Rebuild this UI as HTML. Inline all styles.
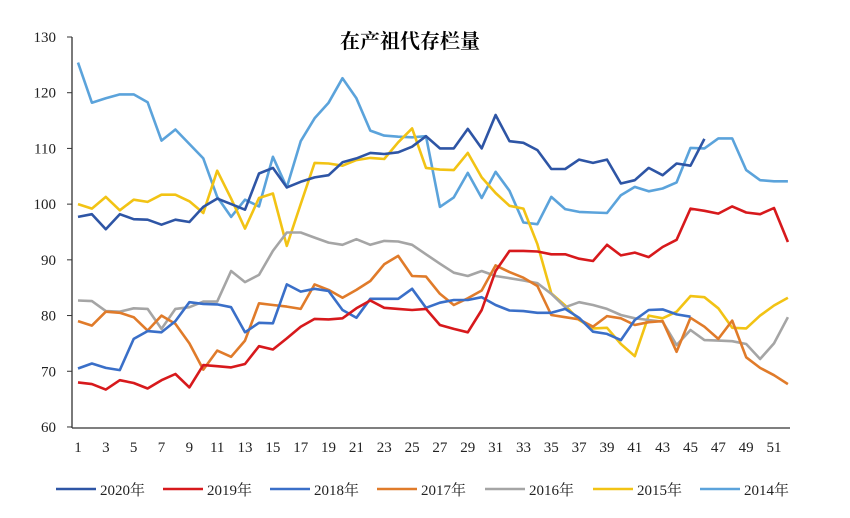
<!DOCTYPE html>
<html><head><meta charset="utf-8"><style>
html,body{margin:0;padding:0;background:#fff;}
svg{display:block;font-family:"Liberation Serif","Noto Serif CJK SC",serif;}
</style></head><body>
<svg id="c" width="850" height="518" viewBox="0 0 850 518" xmlns="http://www.w3.org/2000/svg">
<rect width="850" height="518" fill="#fff"/>
<text x="410" y="48" text-anchor="middle" font-size="20" font-weight="bold" font-family="'Noto Serif CJK SC',serif">在产祖代存栏量</text>
<g id="axes"></g>
<g id="series"></g>
<g id="legend"></g>
</svg>
<script>
var X=function(w){return 78+(w-1)*13.92;};
var Y=function(v){return 37+(130-v)*5.571;};
var ns="http://www.w3.org/2000/svg";
function el(t,a,p,txt){var e=document.createElementNS(ns,t);for(var k in a)e.setAttribute(k,a[k]);if(txt!==undefined)e.textContent=txt;p.appendChild(e);return e;}
var ax=document.getElementById('axes');
el('line',{x1:72,y1:37,x2:72,y2:428,stroke:'#333','stroke-width':1.3},ax);
el('line',{x1:72,y1:428,x2:790,y2:428,stroke:'#333','stroke-width':1.3},ax);
for(var v=60;v<=130;v+=10){var y=Y(v);el('line',{x1:67,y1:y,x2:72,y2:y,stroke:'#333'},ax);el('text',{x:56,y:y+5,'text-anchor':'end','font-size':15,fill:'#222'},ax,v);}
for(var w=1;w<=51;w+=2){el('text',{x:X(w),y:452,'text-anchor':'middle','font-size':15,fill:'#222'},ax,w);}
var S=[
['#5BA3DB','2014年',[125.4,118.2,119,119.7,119.7,118.3,111.4,113.4,110.8,108.2,101.3,97.7,100.8,99.6,108.5,103,111.3,115.4,118.2,122.6,119,113.2,112.3,112.1,112,112.2,99.5,101.2,105.6,101.1,105.8,102.4,96.7,96.4,101.3,99.1,98.6,98.5,98.4,101.6,103.1,102.3,102.8,103.9,110.1,110,111.8,111.8,106.1,104.3,104.1,104.1]],
['#F2C314','2015年',[100,99.2,101.3,98.9,100.8,100.4,101.7,101.7,100.5,98.4,106,101,95.6,101.1,101.9,92.5,100,107.4,107.3,106.9,107.9,108.3,108.1,111.1,113.6,106.5,106.2,106.1,109.2,104.8,102,99.7,99.2,92.8,84,81.8,79.2,77.7,77.8,74.9,72.7,80,79.5,80.7,83.5,83.3,81.3,77.8,77.7,80,81.8,83.2]],
['#A5A5A5','2016年',[82.7,82.6,80.8,80.7,81.3,81.2,77.6,81.2,81.5,82.5,82.5,88,86,87.3,91.6,94.9,94.9,94,93.1,92.7,93.7,92.7,93.4,93.3,92.7,91,89.3,87.7,87.1,88,87.1,86.7,86.3,85.8,83.9,81.5,82.4,81.9,81.2,80.1,79.5,79.2,78.9,74.7,77.4,75.6,75.5,75.4,74.9,72.2,75,79.7]],
['#E07B2A','2017年',[79,78.2,80.7,80.5,79.7,77.3,80,78.5,75,70.3,73.7,72.6,75.5,82.2,81.9,81.6,81.2,85.6,84.6,83.2,84.6,86.2,89.2,90.7,87.1,87,83.9,81.9,83.1,84.5,89,87.8,86.8,85.3,80.1,79.7,79.3,78,79.9,79.5,78.3,78.8,79,73.5,79.6,78,75.8,79.1,72.5,70.6,69.3,67.7]],
['#3A6FC8','2018年',[70.5,71.4,70.6,70.2,75.8,77.2,77,79,82.4,82.1,82,81.5,77,78.7,78.6,85.6,84.3,84.8,84.4,81,79.6,83,83,83,84.8,81.4,82.3,82.8,82.8,83.3,81.9,80.9,80.8,80.5,80.5,81.2,79.6,77.1,76.7,75.6,79.2,81,81.1,80.2,79.8]],
['#D7191C','2019年',[68,67.7,66.7,68.4,67.9,66.9,68.4,69.5,67.1,71.1,70.9,70.7,71.3,74.5,73.9,75.9,78,79.4,79.3,79.5,81.3,82.7,81.4,81.2,81,81.2,78.3,77.6,77,81,88,91.6,91.6,91.5,91,91,90.2,89.8,92.7,90.8,91.3,90.5,92.3,93.6,99.2,98.8,98.3,99.6,98.5,98.2,99.3,93.2]],
['#2E55A5','2020年',[97.7,98.2,95.5,98.2,97.3,97.2,96.3,97.2,96.8,99.5,101,100,99,105.5,106.5,103,104,104.8,105.2,107.5,108.2,109.2,109,109.3,110.3,112.2,110,110,113.5,110,116,111.3,111,109.7,106.3,106.3,108,107.4,108,103.7,104.3,106.5,105.2,107.3,106.9,111.7]]
];
var sg=document.getElementById('series');
S.forEach(function(s){var pts=s[2].map(function(v,i){return X(i+1).toFixed(1)+','+Y(v).toFixed(1);}).join(' ');
el('polyline',{points:pts,fill:'none',stroke:s[0],'stroke-width':2.6,'stroke-linejoin':'round'},sg);});
var lg=document.getElementById('legend');
var order=[6,5,4,3,2,1,0];var lx=[56,163,270,377,485,593,700];
order.forEach(function(k,i){var s=S[k];el('line',{x1:lx[i],y1:489,x2:lx[i]+40,y2:489,stroke:s[0],'stroke-width':2.6},lg);
el('text',{x:lx[i]+44,y:495,'font-size':15,fill:'#222'},lg,s[1]);});
</script>
</body></html>
